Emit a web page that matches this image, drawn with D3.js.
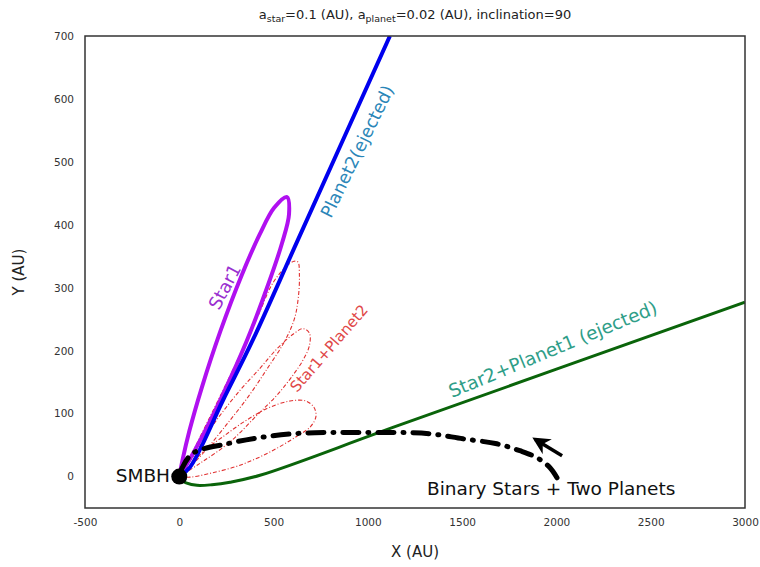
<!DOCTYPE html>
<html>
<head>
<meta charset="utf-8">
<script src="https://cdn.jsdelivr.net/npm/d3@7"></script>
<style>
  body { margin: 0; background: #fff; }
  svg { font-family: "DejaVu Sans", sans-serif; }
</style>
</head>
<body>
<div id="chart"></div>
<script>
// tick labels
const xTicks = [-500, 0, 500, 1000, 1500, 2000, 2500, 3000];
const yTicks = [0, 100, 200, 300, 400, 500, 600, 700];

// trajectories in AU
const star1 = [[0, 0], [17, 26], [54, 73], [119, 141], [218, 231], [331, 320], [427, 385], [503, 427],
  [571, 444], [582, 417], [545, 371], [470, 304], [357, 215], [229, 129], [124, 65], [47, 23], [0, 0]];
const planet2 = [[0, 0], [57, 15], [233, 122], [390, 217], [629, 376], [1117, 700]];
const star1planet2 = [
  [[0, 0], [36, 18], [89, 50], [173, 101], [258, 153], [334, 201], [417, 255], [497, 308], [566, 333],
    [608, 342], [629, 341], [637, 320], [631, 284], [610, 250], [557, 214], [472, 174], [366, 127],
    [244, 80], [126, 37], [46, 12], [0, 0]],
  [[0, 0], [83, 36], [189, 86], [322, 137], [428, 172], [518, 203], [603, 226], [656, 235], [690, 228],
    [690, 208], [658, 186], [605, 162], [520, 130], [414, 98], [269, 55], [110, 21], [0, 0]],
  [[0, 0], [57, 18], [136, 42], [226, 62], [338, 86], [465, 108], [587, 120], [672, 120], [714, 110],
    [725, 96], [698, 80], [624, 64], [481, 39], [322, 18], [163, 5], [57, -1], [0, 0]]
];
const star2planet1 = [[0, -4], [36, -10], [94, -14], [173, -13], [269, -9], [428, 2], [1170, 82], [3000, 277]];
const binary = [[2003, -2], [1966, 14], [1896, 30], [1806, 41], [1684, 52], [1504, 60], [1329, 68], [1154, 70],
  [958, 70], [783, 70], [603, 68], [428, 62], [253, 52], [72, 37], [14, 13], [0, 0]];
const arrowPts = [[2030, 33], [1888, 59]];

const W = 760, H = 567;
const margin = { top: 36, right: 15, bottom: 59, left: 85 };

const svg = d3.select('#chart').append('svg').attr('width', W).attr('height', H);

const x = d3.scaleLinear().domain([-500, 3000]).range([margin.left, W - margin.right]);
const y = d3.scaleLinear().domain([-50, 700]).range([H - margin.bottom, margin.top]);

svg.append('defs').append('clipPath').attr('id', 'plot-clip')
  .append('rect')
  .attr('x', x(-500)).attr('y', y(700))
  .attr('width', x(3000) - x(-500)).attr('height', y(-50) - y(700));

svg.select('defs').append('marker')
  .attr('id', 'head')
  .attr('viewBox', '0 0 10 10')
  .attr('refX', 8).attr('refY', 5)
  .attr('markerWidth', 5).attr('markerHeight', 5)
  .attr('markerUnits', 'strokeWidth')
  .attr('orient', 'auto')
  .append('path').attr('d', 'M0,0 L10,5 L0,10 L3,5 Z').attr('fill', '#000');

const line = d3.line().x(d => x(d[0])).y(d => y(d[1])).curve(d3.curveCatmullRom.alpha(0.5));
const straight = d3.line().x(d => x(d[0])).y(d => y(d[1]));

const g = svg.append('g').attr('clip-path', 'url(#plot-clip)');

// Star1+Planet2, thin dash-dot loops
g.selectAll('.sp2').data(star1planet2).enter().append('path')
  .attr('class', 'sp2')
  .attr('d', line)
  .attr('fill', 'none')
  .attr('stroke', '#e03030')
  .attr('stroke-width', 1.1)
  .attr('stroke-dasharray', '4,2,1,2');

g.append('path').datum(star1).attr('d', line)
  .attr('fill', 'none').attr('stroke', '#b010f0').attr('stroke-width', 4);

g.append('path').datum(planet2).attr('d', line)
  .attr('fill', 'none').attr('stroke', '#0000ee').attr('stroke-width', 4);

g.append('path').datum(star2planet1).attr('d', line)
  .attr('fill', 'none').attr('stroke', '#0a640a').attr('stroke-width', 3);

g.append('path').datum(binary).attr('d', line)
  .attr('fill', 'none').attr('stroke', '#000').attr('stroke-width', 5)
  .attr('stroke-linecap', 'round')
  .attr('stroke-dasharray', '16,9,1,9');

// direction arrow
g.append('path').datum(arrowPts).attr('d', straight)
  .attr('fill', 'none').attr('stroke', '#000').attr('stroke-width', 3.5)
  .attr('marker-end', 'url(#head)');

// SMBH
g.append('circle').attr('cx', x(0)).attr('cy', y(0)).attr('r', 8).attr('fill', '#000');

// frame
svg.append('rect')
  .attr('x', x(-500)).attr('y', y(700))
  .attr('width', x(3000) - x(-500)).attr('height', y(-50) - y(700))
  .attr('fill', 'none').attr('stroke', '#333').attr('stroke-width', 1.5);

// axes (no tick marks, labels only; plain hyphen for negatives)
const xAxis = svg.append('g')
  .attr('transform', `translate(0,${y(-50)})`)
  .call(d3.axisBottom(x).tickValues(xTicks).tickSize(0).tickPadding(11).tickFormat(d => String(d)));
const yAxis = svg.append('g')
  .attr('transform', `translate(${x(-500)},0)`)
  .call(d3.axisLeft(y).tickValues(yTicks).tickSize(0).tickPadding(11).tickFormat(d => String(d)));
[xAxis, yAxis].forEach(a => {
  a.select('.domain').remove();
  a.selectAll('text').attr('font-family', '"DejaVu Sans", sans-serif').attr('font-size', 10.5).attr('fill', '#333');
});

svg.append('text').attr('x', (x(-500) + x(3000)) / 2).attr('y', 557)
  .attr('text-anchor', 'middle').attr('font-size', 15).attr('fill', '#222').text('X (AU)');
svg.append('text').attr('transform', `translate(24,${(y(700) + y(-50)) / 2}) rotate(-90)`)
  .attr('text-anchor', 'middle').attr('font-size', 15).attr('fill', '#222').text('Y (AU)');

// title
const title = svg.append('text').attr('x', (x(-500) + x(3000)) / 2).attr('y', 19)
  .attr('text-anchor', 'middle').attr('font-size', 13).attr('fill', '#222');
title.append('tspan').text('a');
title.append('tspan').attr('font-size', 9.5).attr('dy', 3).text('star');
title.append('tspan').attr('dy', -3).text('=0.1 (AU), a');
title.append('tspan').attr('font-size', 9.5).attr('dy', 3).text('planet');
title.append('tspan').attr('dy', -3).text('=0.02 (AU), inclination=90');

// annotations
function label(px, py, angle, size, color, txt) {
  svg.append('text')
    .attr('transform', `translate(${px},${py}) rotate(${angle})`)
    .attr('font-size', size).attr('fill', color).text(txt);
}
label(331, 219, -64, 17.5, '#2a86b8', 'Planet2(ejected)');
label(219, 311, -62, 18, '#9a30d0', 'Star1');
label(297, 393, -49, 15, '#e04848', 'Star1+Planet2');
label(452, 398, -22.5, 18.5, '#2f9e88', 'Star2+Planet1 (ejected)');

svg.append('text').attr('x', 170).attr('y', 482).attr('text-anchor', 'end')
  .attr('font-size', 18.5).attr('fill', '#111').text('SMBH');
svg.append('text').attr('x', 427).attr('y', 495)
  .attr('font-size', 18.5).attr('fill', '#111').text('Binary Stars + Two Planets');
</script>
</body>
</html>
